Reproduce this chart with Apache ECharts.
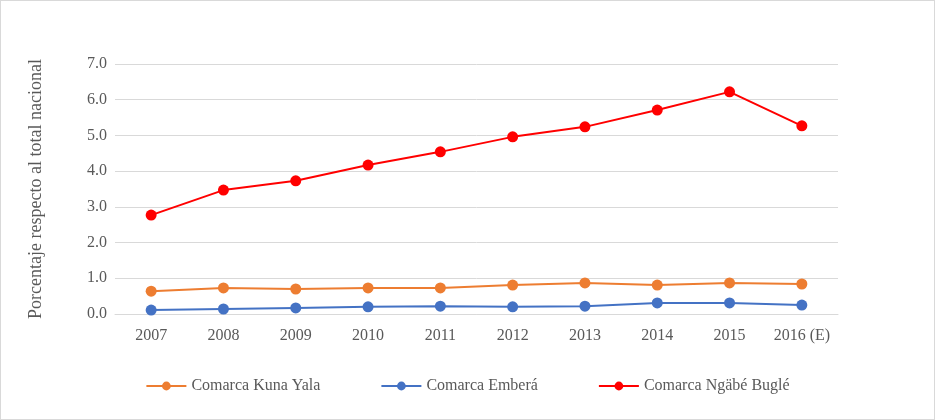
<!DOCTYPE html>
<html><head><meta charset="utf-8">
<script src="https://cdn.jsdelivr.net/npm/echarts@6/dist/echarts.min.js"></script>
<style>html,body{margin:0;padding:0;background:#fff}#c{width:935px;height:420px;box-sizing:border-box;border:1px solid #d9d9d9}</style>
</head><body><div id="c"></div>
<script>
const categories = ['2007','2008','2009','2010','2011','2012','2013','2014','2015','2016 (E)'];
const kunaYala = [0.64,0.73,0.70,0.73,0.73,0.81,0.87,0.81,0.87,0.84];
const embera = [0.11,0.14,0.17,0.20,0.22,0.20,0.22,0.31,0.31,0.25];
const ngabe = [2.77,3.47,3.73,4.17,4.54,4.96,5.24,5.71,6.22,5.27];
const font = 'Liberation Serif';
const chart = echarts.init(document.getElementById('c'));
function s(name, data, color){
  return {name, type:'line', data, symbol:'circle', symbolSize:11,
    itemStyle:{color}, lineStyle:{color, width:2}};
}
chart.setOption({
  animation:false,
  textStyle:{fontFamily:font},
  grid:{left:114, right:96, top:63, bottom:105},
  legend:{bottom:20, itemGap:60, itemWidth:40, itemHeight:11,
    textStyle:{fontFamily:font, fontSize:16, color:'#595959'}},
  xAxis:{type:'category', data:categories, boundaryGap:true,
    axisLine:{lineStyle:{color:'#d9d9d9'}}, axisTick:{show:false},
    axisLabel:{interval:0, fontFamily:font, fontSize:16, color:'#595959', margin:14}},
  yAxis:{type:'value', min:0, max:7, interval:1,
    name:'Porcentaje respecto al total nacional', nameLocation:'middle', nameGap:70,
    nameTextStyle:{fontFamily:font, fontSize:18, color:'#595959'},
    axisLabel:{fontFamily:font, fontSize:16, color:'#595959', formatter:v=>v.toFixed(1)},
    splitLine:{lineStyle:{color:'#d9d9d9'}}},
  series:[s('Comarca Kuna Yala',kunaYala,'#ed7d31'), s('Comarca Emberá',embera,'#4472c4'), s('Comarca Ngäbé Buglé',ngabe,'#ff0000')]
});
</script></body></html>
